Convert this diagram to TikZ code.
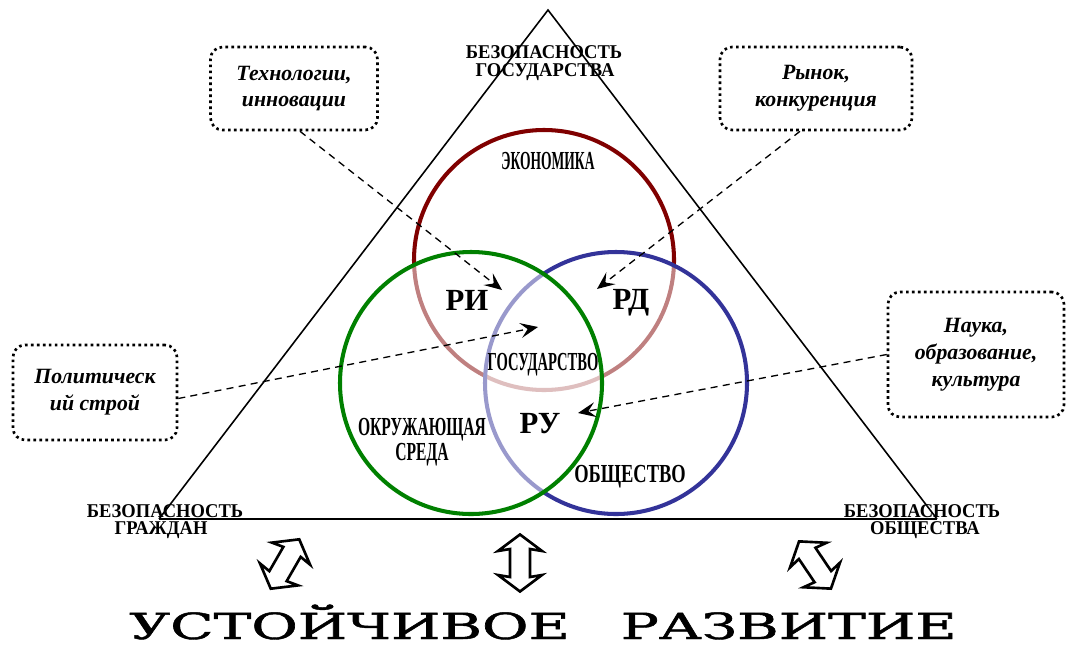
\documentclass[tikz,border=0pt]{standalone}
\usepackage{fontspec}
\setmainfont{Liberation Serif}
\newfontfamily\bigfont[FakeBold=1.2]{DejaVu Serif}
\usetikzlibrary{arrows.meta,calc}
\newcommand\sqz[2]{\scalebox{#1}[1]{#2}}
\definecolor{ecored}{HTML}{800000}
\definecolor{envgreen}{HTML}{008000}
\definecolor{socblue}{HTML}{333399}
\begin{document}
\begin{tikzpicture}[x=0.02cm,y=-0.02cm,
  circ/.style={line width=2.3pt},
  veil/.style={fill=white,fill opacity=0.5},
  tri/.style={line width=0.9pt},
  infobox/.style={draw,line width=1.5pt,dash pattern=on 1.5pt off 1.9pt,rounded corners=0.24cm,align=center,font=\bfseries\itshape\fontsize{12.4}{15.3}\selectfont,inner sep=0pt},
  conn/.style={line width=0.75pt,dash pattern=on 4pt off 3pt,-{Stealth[length=10pt,width=8.5pt,inset=4pt]}},
  vlab/.style={font=\bfseries\fontsize{14.8}{13.8}\selectfont,inner sep=0pt,anchor=base},
  rlab/.style={font=\bfseries\fontsize{17.5}{18}\selectfont,inner sep=0pt,anchor=base},
  tlab/.style={font=\bfseries\fontsize{11.1}{12.2}\selectfont,inner sep=0pt,anchor=base},
  hollow/.style={draw,line width=1.5pt,fill=white,line join=miter}
]
\useasboundingbox (0,0) rectangle (1070,646);
% triangle
\coordinate (apex) at (548,10);
\coordinate (vl) at (159,519);
\coordinate (vr) at (937,519);
\draw[tri] (vl) -- (apex) -- (vr);
\draw[line width=1.1pt] (vl) -- (vr);
% circles
\draw[circ,ecored] (544,260) circle (130);
\draw[circ,socblue,veil] (616,383) circle (131);
\draw[circ,envgreen,veil] (471,383) circle (131);
% labels in circles
\node[vlab] (eco) at (548,169) {\sqz{0.52}{ЭКОНОМИКА}};
\node[vlab] (gos) at (543,370) {\sqz{0.56}{ГОСУДАРСТВО}};
\node[vlab,align=center] (env) at (422,460) {\sqz{0.6}{ОКРУЖАЮЩАЯ}\\\sqz{0.6}{СРЕДА}};
\node[vlab] (soc) at (630,482) {\sqz{0.71}{ОБЩЕСТВО}};
\node[rlab] (ri) at (467,310) {РИ};
\node[rlab] (rd) at (631,309) {РД};
\node[rlab] (ru) at (540,433) {РУ};
% triangle labels
\node[tlab] (ts1) at (544,58) {\sqz{0.95}{БЕЗОПАСНОСТЬ}};
\node[tlab] (ts2) at (545,76) {\sqz{0.95}{ГОСУДАРСТВА}};
\node[tlab] (tc1) at (165,517) {\sqz{0.95}{БЕЗОПАСНОСТЬ}};
\node[tlab] (tc2) at (161,534) {\sqz{0.95}{ГРАЖДАН}};
\node[tlab] (to1) at (922,517) {\sqz{0.95}{БЕЗОПАСНОСТЬ}};
\node[tlab] (to2) at (925,534) {\sqz{0.95}{ОБЩЕСТВА}};
% info boxes
\node[infobox,minimum width=3.34cm,minimum height=1.66cm] (b1) at (294,88.5) {Технологии,\\инновации};
\node[infobox,minimum width=3.84cm,minimum height=1.66cm] (b2) at (816,88.5) {Рынок,\\конкуренция};
\node[infobox,minimum width=3.28cm,minimum height=1.90cm] (b3) at (95,392.5) {Политическ\\ий строй};
\node[infobox,minimum width=3.52cm,minimum height=2.50cm] (b4) at (976,354.5) {Наука,\\образование,\\культура};
% arrow targets
\coordinate (t1) at (502,290);
\coordinate (t2) at (597,289);
\coordinate (t3) at (538,327);
\coordinate (t4) at (578,413);
\draw[conn] ($(b1.south)+(6,0)$) -- (t1);
\draw[conn] ($(b2.south)+(-16,0)$) -- (t2);
\draw[conn] ($(b3.east)+(0,6)$) -- (t3);
\draw[conn] (b4.west) -- (t4);
% hollow double arrows
\tikzset{dblarrow/.pic={
  \draw[hollow] (0,-28.5) -- (22,-12) -- (10,-14) -- (10,14) -- (22,12) -- (0,28.5)
    -- (-22,12) -- (-10,14) -- (-10,-14) -- (-22,-12) -- cycle;
}}
\pic[rotate=-30] at (285,564) {dblarrow};
\pic at (520,563) {dblarrow};
\pic[rotate=34] at (815,565) {dblarrow};
% bottom title
\node[inner sep=0pt,anchor=base] (title) at (543,639) {\resizebox{16.55cm}{\height}{\fontsize{20.5}{22}\bigfont УСТОЙЧИВОЕ\hspace{0.9em}РАЗВИТИЕ}};
\end{tikzpicture}
\end{document}
